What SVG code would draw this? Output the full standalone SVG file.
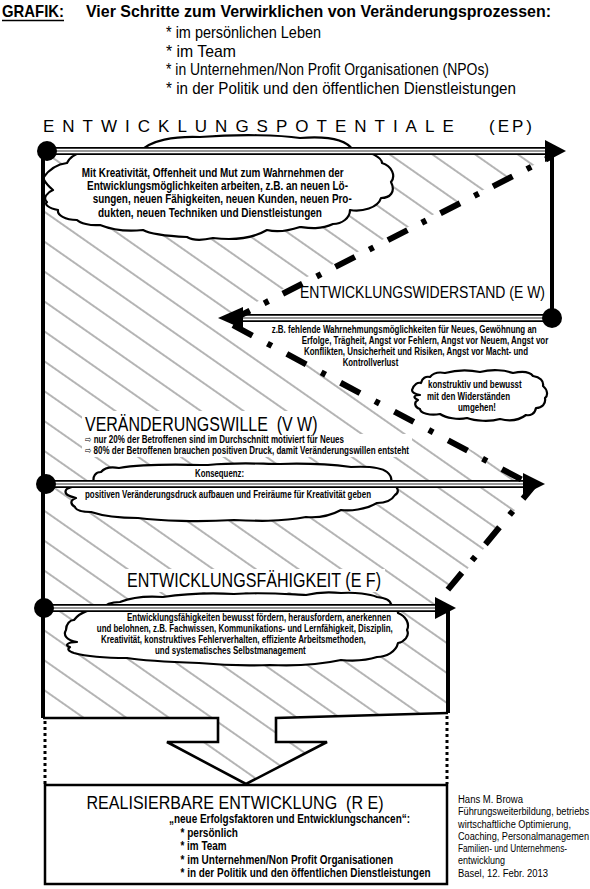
<svg xmlns="http://www.w3.org/2000/svg" width="590" height="889" viewBox="0 0 590 889">
<defs>
<style>
text{font-family:"Liberation Sans Narrow","Liberation Sans",Arial,sans-serif;fill:#000}
.b{font-weight:bold}
.s10{font-size:10.5px}
.s11{font-size:11px}
.s12{font-size:12px}
.s17{font-size:17px}
.s19{font-size:19px}
.s20{font-size:20px}
.cr{font-size:10px}
.cloud{fill:#fff;stroke:#000;stroke-width:2.2;stroke-linejoin:round}
.hl1{fill:none;stroke:#000;stroke-width:8}
.hl2{fill:none;stroke:#fff;stroke-width:4.4}
.hl3{fill:none;stroke:#999;stroke-width:1.8}
.dd{fill:none;stroke:#000;stroke-width:6;stroke-dasharray:22 16 5 16}
.vl{fill:none;stroke:#000;stroke-width:4}
.bl{fill:none;stroke:#000;stroke-width:2.6;stroke-linejoin:miter}
.dotted{fill:none;stroke:#000;stroke-width:3;stroke-dasharray:3 3}
.ah{fill:#000}
.wb{fill:#fff}
.sym{font-family:"DejaVu Sans",sans-serif;font-size:10px;font-weight:normal}
.wide{font-family:"Liberation Sans",Arial,sans-serif}
</style>
<pattern id="hatch" patternUnits="userSpaceOnUse" width="40" height="24.5" patternTransform="rotate(35)">
<line x1="-1" y1="1" x2="41" y2="1" stroke="#444" stroke-width="0.8"/>
</pattern>
<clipPath id="hclip">
<polygon points="43,151 552,151 552,156 222,319 536,484 436,608 448,608 448,713 276,718 276,742 327,742 246,784 167,742 218,742 218,718 43,718"/>
</clipPath>
</defs>
<rect x="0" y="0" width="590" height="889" fill="#fff"/>

<g id="hatching">
<rect x="0" y="140" width="590" height="660" fill="url(#hatch)" clip-path="url(#hclip)"/>
</g>

<g id="header">
<text class="b s17" x="2" y="17" textLength="62" lengthAdjust="spacingAndGlyphs">GRAFIK:</text>
<line x1="2" y1="20.5" x2="64" y2="20.5" stroke="#000" stroke-width="1.3"/>
<text class="b s17" x="86" y="17" textLength="465" lengthAdjust="spacingAndGlyphs">Vier Schritte zum Verwirklichen von Veränderungsprozessen:</text>
<text class="s17" x="166" y="38" textLength="155" lengthAdjust="spacingAndGlyphs">* im persönlichen Leben</text>
<text class="s17" x="166" y="56.5" textLength="70" lengthAdjust="spacingAndGlyphs">* im Team</text>
<text class="s17" x="166" y="75" textLength="323" lengthAdjust="spacingAndGlyphs">* in Unternehmen/Non Profit Organisationen (NPOs)</text>
<text class="s17" x="166" y="93.5" textLength="350" lengthAdjust="spacingAndGlyphs">* in der Politik und den öffentlichen Dienstleistungen</text>
</g>

<g id="node-ep">
<text class="s17 wide" x="43" y="132" style="letter-spacing:8px">ENTWICKLUNGSPOTENTIALE</text>
<text class="s17 wide" x="489" y="132" style="letter-spacing:3px">(EP)</text>
<path class="cloud" d="M43,178 C50,168 58,164 67,163 C72,152 88,150 100,153 L140,152 C150,140 175,136 200,137 C240,134 280,135 300,138 C325,136 345,138 353,150 C370,150 382,158 382,163 C392,166 396,176 391,182 C396,192 390,198 381,198 C378,208 362,212 350,210 C350,218 342,224 333,224 C320,230 308,228 300,227 C285,232 275,232 267,230 C250,240 230,240 213,238 C200,241 192,240 187,237 C165,236 150,234 143,230 C125,232 110,229 100,225 C90,226 80,223 77,220 C65,220 57,215 58,210 C48,208 44,204 47,202 C42,198 48,192 53,190 C48,186 45,182 43,178 Z"/>
<text class="b s12" x="81.7" y="176.7" textLength="262" lengthAdjust="spacingAndGlyphs">Mit Kreativität, Offenheit und Mut zum Wahrnehmen der</text>
<text class="b s12" x="87" y="190" textLength="261" lengthAdjust="spacingAndGlyphs">Entwicklungsmöglichkeiten arbeiten, z.B. an neuen Lö-</text>
<text class="b s12" x="92.7" y="203.3" textLength="259" lengthAdjust="spacingAndGlyphs">sungen, neuen Fähigkeiten, neuen Kunden, neuen Pro-</text>
<text class="b s12" x="98" y="217.3" textLength="224" lengthAdjust="spacingAndGlyphs">dukten, neuen Techniken und Dienstleistungen</text>
</g>

<g id="node-ew">
<text class="s17" x="300" y="298" textLength="245" lengthAdjust="spacingAndGlyphs">ENTWICKLUNGSWIDERSTAND (E W)</text>
<text class="b s10" x="271.7" y="333.3" textLength="265" lengthAdjust="spacingAndGlyphs">z.B. fehlende Wahrnehmungsmöglichkeiten für Neues, Gewöhnung an</text>
<text class="b s10" x="301.7" y="344.3" textLength="246.6" lengthAdjust="spacingAndGlyphs">Erfolge, Trägheit, Angst vor Fehlern, Angst vor Neuem, Angst vor</text>
<text class="b s10" x="304" y="355" textLength="224" lengthAdjust="spacingAndGlyphs">Konflikten, Unsicherheit und Risiken, Angst vor Macht- und</text>
<text class="b s10" x="342.7" y="365.7" textLength="55.6" lengthAdjust="spacingAndGlyphs">Kontrollverlust</text>
</g>

<g id="node-konstruktiv">
<path class="cloud" d="M412,390 C414,384 418,382 421,383 C422,378 426,376 430,377 C434,372 440,372 445,373 C460,369 470,370 480,372 C492,369 505,370 513,373 C522,371 530,372 533,376 C540,377 544,381 543,386 C548,390 548,396 545,398 C546,404 542,408 536,408 C535,414 530,416 526,415 C518,421 508,421 500,419 C490,422 475,421 467,418 C458,420 446,418 440,414 C430,416 420,413 420,409 C414,407 414,402 418,400 C413,398 413,395 420,395 C415,394 412,392 412,390 Z"/>
<text class="b s10" x="428" y="388.3" textLength="93.7" lengthAdjust="spacingAndGlyphs">konstruktiv und bewusst</text>
<text class="b s10" x="427" y="400" textLength="83" lengthAdjust="spacingAndGlyphs">mit den Widerständen</text>
<text class="b s10" x="458" y="410.7" textLength="38" lengthAdjust="spacingAndGlyphs">umgehen!</text>
</g>

<g id="node-vw">
<rect class="wb" x="82" y="411" width="240" height="23"/>
<rect class="wb" x="82" y="434" width="330" height="23"/>
<text class="s20" x="85" y="430.5" textLength="232.5" lengthAdjust="spacingAndGlyphs">VERÄNDERUNGSWILLE&#160; (V W)</text>
<text class="b s10" x="85" y="443" textLength="259" lengthAdjust="spacingAndGlyphs"><tspan class="sym">⇨</tspan> nur 20% der Betroffenen sind im Durchschnitt motiviert für Neues</text>
<text class="b s10" x="85" y="454" textLength="324" lengthAdjust="spacingAndGlyphs"><tspan class="sym">⇨</tspan> 80% der Betroffenen brauchen positiven Druck, damit Veränderungswillen entsteht</text>
<path class="cloud" d="M94,483 C92,476 96,472 101,472 C106,466 114,467 119,468 C150,463 180,465 208,465 C240,462 260,464 280,464 C310,463 335,465 351,467 C370,466 382,468 387,472 C392,476 392,480 391,484 C398,486 400,492 395,495 C392,500 385,503 377,503 C365,510 350,511 341,510 C330,516 318,518 306,517 C280,522 255,521 234,520 C200,522 160,521 138,518 C115,518 100,515 91,512 C82,512 76,510 75,507 C70,504 70,500 76,498 C68,496 64,494 66,490 C68,486 80,485 94,483 Z"/>
<text class="b s10" x="195" y="476.5" textLength="49" lengthAdjust="spacingAndGlyphs">Konsequenz:</text>
<text class="b s10" x="85" y="497.5" textLength="286" lengthAdjust="spacingAndGlyphs">positiven Veränderungsdruck aufbauen und Freiräume für Kreativität geben</text>
</g>

<g id="node-ef">
<rect class="wb" x="124" y="569" width="261" height="23"/>
<text class="s20" x="127" y="587" textLength="254" lengthAdjust="spacingAndGlyphs">ENTWICKLUNGSFÄHIGKEIT (E F)</text>
<path class="cloud" d="M66,630 C66,624 70,620 74,620 C80,612 92,608 102,609 C106,603 114,602 120,602 C135,596 150,596 163,597 C190,593 215,593 234,594 C262,592 285,594 306,595 C318,592 330,592 341,593 C355,592 370,594 377,597 C386,598 391,601 391,605 C396,607 398,610 398,613 C406,616 410,624 407,630 C410,636 404,642 398,643 C396,652 386,657 377,657 C365,661 352,661 341,660 C318,665 292,666 270,665 C245,666 220,665 199,663 C170,662 145,661 127,658 C105,658 85,656 74,653 C68,651 67,649 70,647 C65,646 66,642 77,642 C66,640 63,635 66,630 Z"/>
<text class="b s10" x="127" y="620.7" textLength="264" lengthAdjust="spacingAndGlyphs">Entwicklungsfähigkeiten bewusst fördern, herausfordern, anerkennen</text>
<text class="b s10" x="96.8" y="631.7" textLength="296" lengthAdjust="spacingAndGlyphs">und belohnen, z.B. Fachwissen, Kommunikations- und Lernfähigkeit, Disziplin,</text>
<text class="b s10" x="101" y="642.7" textLength="264.7" lengthAdjust="spacingAndGlyphs">Kreativität, konstruktives Fehlerverhalten, effiziente Arbeitsmethoden,</text>
<text class="b s10" x="155" y="654" textLength="150.7" lengthAdjust="spacingAndGlyphs">und systematisches Selbstmanagement</text>
</g>

<g id="node-re">
<rect x="45" y="785" width="402" height="99" fill="#fff" stroke="#000" stroke-width="2.5"/>
<text class="s19" x="86.5" y="809.3" textLength="297" lengthAdjust="spacingAndGlyphs">REALISIERBARE ENTWICKLUNG&#160; (R E)</text>
<text class="b s12" x="169" y="822.7" textLength="241" lengthAdjust="spacingAndGlyphs">„neue Erfolgsfaktoren und Entwicklungschancen“:</text>
<text class="b s12" x="180.5" y="836.7" textLength="57.5" lengthAdjust="spacingAndGlyphs">* persönlich</text>
<text class="b s12" x="180.5" y="850" textLength="46" lengthAdjust="spacingAndGlyphs">* im Team</text>
<text class="b s12" x="180.5" y="864.3" textLength="212.5" lengthAdjust="spacingAndGlyphs">* im Unternehmen/Non Profit Organisationen</text>
<text class="b s12" x="180.5" y="877.3" textLength="250" lengthAdjust="spacingAndGlyphs">* in der Politik und den öffentlichen Dienstleistungen</text>
</g>

<g id="credits">
<text class="cr" x="458" y="802.7" textLength="65" lengthAdjust="spacingAndGlyphs">Hans M. Browa</text>
<text class="cr" x="458" y="815" textLength="131" lengthAdjust="spacingAndGlyphs">Führungsweiterbildung, betriebs</text>
<text class="cr" x="458" y="827.5" textLength="113" lengthAdjust="spacingAndGlyphs">wirtschaftliche Optimierung,</text>
<text class="cr" x="458" y="839.5" textLength="131" lengthAdjust="spacingAndGlyphs">Coaching, Personalmanagemen</text>
<text class="cr" x="458" y="851.7" textLength="109" lengthAdjust="spacingAndGlyphs">Familien- und Unternehmens-</text>
<text class="cr" x="458" y="863.8" textLength="47" lengthAdjust="spacingAndGlyphs">entwicklung</text>
<text class="cr" x="458" y="876.7" textLength="90" lengthAdjust="spacingAndGlyphs">Basel, 12. Febr. 2013</text>
</g>

<g id="connectors">
<path class="vl" d="M43,151 V718 M552,151 V318 M448,608 V713"/>
<path class="bl" d="M43,718 H218 V742 H167 L246,784 L327,742 H276 V718 L448,713"/>
<path class="dotted" d="M45,721 V784 M447,716 V784"/>
<path class="hl1" d="M47,151 H546 M243,318 H552 M46,484 H524 M45,608 H436"/>
<path class="hl2" d="M47,151 H546 M243,318 H552 M46,484 H524 M45,608 H436"/>
<path class="hl3" d="M47,151 H546 M243,318 H552 M46,484 H524 M45,608 H436"/>
<path class="dd" style="stroke-dashoffset:14.7" d="M552,156.2 L229.7,320.9"/>
<path class="dd" style="stroke-dashoffset:48.5;stroke-dasharray:22 17 5 17" d="M222,319.3 L521.8,479.7"/>
<path class="dd" style="stroke-dashoffset:1.6" d="M536,483 L446.8,591"/>
<polygon class="ah" points="545,140 566,151 545,162"/>
<polygon class="ah" points="218,318 243,307 243,329"/>
<polygon class="ah" points="545,484 523,473 523,495"/>
<polygon class="ah" points="456,608 435,597 435,619"/>
<circle class="ah" cx="47" cy="151" r="10"/>
<circle class="ah" cx="552" cy="318" r="10"/>
<circle class="ah" cx="46" cy="484" r="10"/>
<circle class="ah" cx="44" cy="608" r="10"/>
</g>
</svg>
